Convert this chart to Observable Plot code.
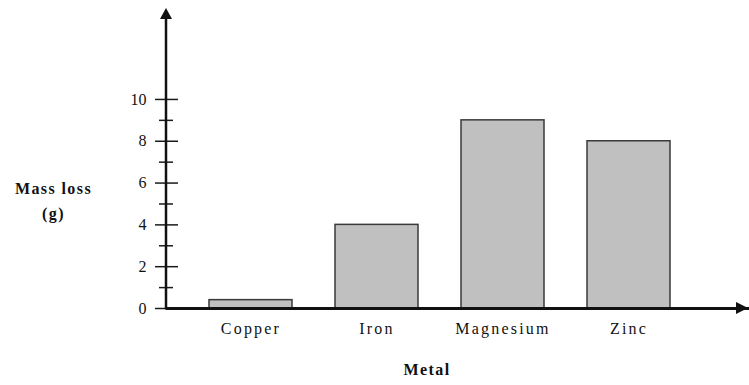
<!DOCTYPE html>
<html>
<head>
<meta charset="utf-8">
<script src="https://cdn.jsdelivr.net/npm/d3@7"></script>
<script src="https://cdn.jsdelivr.net/npm/@observablehq/plot@0.6"></script>
<style>
  html, body { margin: 0; padding: 0; background: #fff; }
  svg { display: block; }
</style>
</head>
<body>
<div id="chart"></div>
<script>
const metals = ["Copper", "Iron", "Magnesium", "Zinc"];
const massLoss = [0.4, 4, 9, 8];
const majorTicks = [0, 2, 4, 6, 8, 10];
const minorTicks = [1, 3, 5, 7, 9];
const yLabel = "Mass loss\n(g)";
const xLabel = "Metal";

const data = metals.map((m, i) => ({metal: m, loss: massLoss[i]}));
const font = "Liberation Serif";

const chart = Plot.plot({
  width: 749,
  height: 385,
  marginTop: 8,
  marginBottom: 77,
  marginLeft: 166,
  marginRight: 0,
  style: {fontFamily: font, background: "#fff", color: "#111"},
  x: {domain: metals, range: [166, 713], padding: 0.34},
  y: {domain: [0, 14.35]},
  marks: [
    Plot.barY(data, {x: "metal", y: "loss", fill: "#c0c0c0", stroke: "#3a3a3a", strokeWidth: 1.5}),
    Plot.axisY({ticks: majorTicks, tickSize: 23, dx: 12, tickPadding: 9, fontSize: 16, fontFamily: font, label: null, strokeWidth: 1.5, stroke: "#1a1a1a", className: "ticklab"}),
    Plot.axisY({ticks: minorTicks, tickSize: 14, dx: 7, tickFormat: () => "", label: null, strokeWidth: 1.5, stroke: "#1a1a1a"}),
    Plot.axisX({tickSize: 0, tickPadding: 14, fontSize: 16, fontFamily: font, label: null, className: "catlab"}),
    Plot.ruleY([0], {stroke: "#111", strokeWidth: 3}),
    Plot.text([yLabel], {frameAnchor: "left", dx: -113, dy: 40, fontSize: 16, fontFamily: font, fontWeight: "bold", lineHeight: 1.56, textAnchor: "middle", fill: "#111", className: "boldlab"}),
    Plot.text([xLabel], {frameAnchor: "bottom", dx: -31, dy: 66, fontSize: 16, fontFamily: font, fontWeight: "bold", fill: "#111", className: "boldlab"})
  ]
});

document.getElementById("chart").append(chart);

const svg = d3.select(chart);
svg.selectAll("text").style("font-family", "Liberation Serif, serif");
svg.selectAll(".catlab text").style("letter-spacing", "2.2px");
svg.selectAll(".boldlab text").style("letter-spacing", "1.4px");

// axis line and arrowheads
const ys = chart.scale("y");
const x0 = 166;
const yBase = ys.apply(0);
const yTop = ys.range[1];
svg.append("line").attr("x1", x0).attr("x2", x0).attr("y1", yBase + 1.5).attr("y2", yTop + 8)
  .attr("stroke", "#111").attr("stroke-width", 2.5);
svg.append("path").attr("d", `M${x0},${yTop} L${x0 - 6},${yTop + 11} L${x0 + 6},${yTop + 11} Z`).attr("fill", "#111");
svg.append("path").attr("d", `M748,${yBase} L736,${yBase - 6} L736,${yBase + 6} Z`).attr("fill", "#111");
</script>
</body>
</html>
